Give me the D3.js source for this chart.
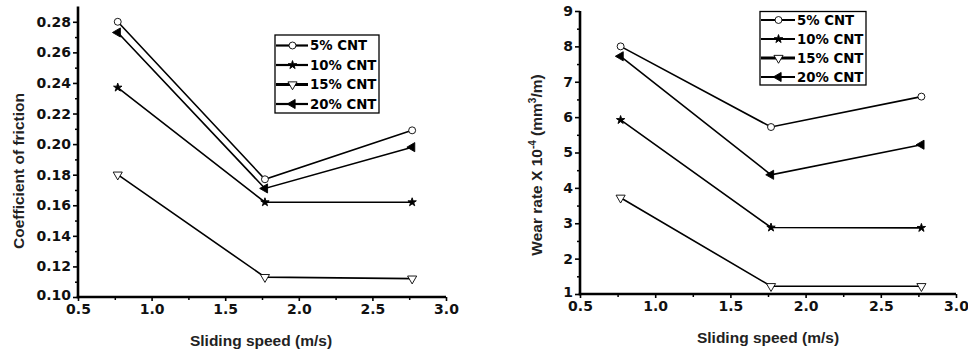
<!DOCTYPE html>
<html>
<head>
<meta charset="utf-8">
<script src="https://cdn.jsdelivr.net/npm/d3@7"></script>
<style>
  body { margin: 0; background: #fff; }
  svg { display: block; font-family: "Liberation Sans", Arial, Helvetica, sans-serif; }
</style>
</head>
<body>
<svg id="chart" width="968" height="353"></svg>
<script>
// sliding speeds (m/s)
var speeds = [0.77, 1.77, 2.77];
var seriesNames = ["5% CNT", "10% CNT", "15% CNT", "20% CNT"];

// coefficient of friction
var cof5 = [0.280, 0.177, 0.209];
var cof10 = [0.237, 0.162, 0.162];
var cof15 = [0.180, 0.113, 0.112];
var cof20 = [0.273, 0.171, 0.198];

// wear rate x 10^-4 (mm3/m)
var wear5 = [8.00, 5.72, 6.58];
var wear10 = [5.92, 2.88, 2.87];
var wear15 = [3.72, 1.22, 1.22];
var wear20 = [7.72, 4.37, 5.22];

var xTicks = [0.5, 1.0, 1.5, 2.0, 2.5, 3.0];
var cofTicks = [0.10, 0.12, 0.14, 0.16, 0.18, 0.20, 0.22, 0.24, 0.26, 0.28];
var wearTicks = [1, 2, 3, 4, 5, 6, 7, 8, 9];

var markers = ["circle", "star", "down", "left"];

function markerPath(kind) {
    if (kind == "circle") return d3.symbol().type(d3.symbolCircle).size(38)();
    if (kind == "star") return d3.symbol().type(d3.symbolStar).size(22)();
    return d3.symbol().type(d3.symbolTriangle).size(36)();
}
function markerRotate(kind) {
    if (kind == "down") return 180;
    if (kind == "left") return -90;
    return 0;
}
function markerFill(kind) {
    return (kind == "circle" || kind == "down") ? "#fff" : "#000";
}

var svg = d3.select("#chart");

function drawPanel(opt) {
    var x = d3.scaleLinear().domain([0.5, 3.0]).range([opt.left, opt.right]);
    var y = d3.scaleLinear().domain(opt.yDomain).range([opt.bottom, opt.top]);

    var g = svg.append("g");

    // minor ticks
    var xMinor = d3.range(0.75, 3.0, 0.5);
    g.append("g")
        .attr("transform", "translate(0," + opt.bottom + ")")
        .call(d3.axisBottom(x).tickValues(xMinor).tickSize(3).tickFormat(""))
        .call(function(a) { a.select(".domain").remove(); a.selectAll("line").attr("stroke-width", 1.5); });
    g.append("g")
        .attr("transform", "translate(" + opt.left + ",0)")
        .call(d3.axisLeft(y).tickValues(opt.yMinor).tickSize(3).tickFormat(""))
        .call(function(a) { a.select(".domain").remove(); a.selectAll("line").attr("stroke-width", 1.5); });

    var xAxis = g.append("g")
        .attr("transform", "translate(0," + opt.bottom + ")")
        .call(d3.axisBottom(x).tickValues(xTicks).tickSize(4).tickSizeOuter(0).tickPadding(3.5)
            .tickFormat(d3.format(".1f")));
    var yAxis = g.append("g")
        .attr("transform", "translate(" + opt.left + ",0)")
        .call(d3.axisLeft(y).tickValues(opt.yTicks).tickSize(5).tickSizeOuter(0).tickPadding(2)
            .tickFormat(opt.yFormat));
    [xAxis, yAxis].forEach(function(a) {
        a.select(".domain").attr("stroke-width", 2.6).attr("stroke", "#000");
        a.selectAll(".tick line").attr("stroke-width", 1.6);
        a.selectAll(".tick text")
            .style("font-family", "'DejaVu Sans', sans-serif")
            .style("font-size", "14px").style("font-weight", "bold").style("fill", "#111");
    });
    // keep the lowest y label clear of the first x label
    yAxis.selectAll(".tick text").filter(function(d) { return d == opt.yDomain[0]; })
        .attr("dy", "0.2em");
    yAxis.select(".domain").attr("d", "M0," + (opt.bottom + 1.3) + "V" + opt.top);
    xAxis.select(".domain").attr("d", "M-1.3,0H" + (opt.right - opt.left)).attr("transform", "translate(" + opt.left + ",0)");

    var line = d3.line()
        .x(function(d, i) { return x(speeds[i]); })
        .y(function(d) { return y(d); });

    opt.series.forEach(function(vals) {
        g.append("path")
            .attr("d", line(vals))
            .attr("fill", "none")
            .attr("stroke", "#000")
            .attr("stroke-width", 1.6);
    });
    opt.series.forEach(function(vals, si) {
        var kind = markers[si];
        g.selectAll(null)
            .data(vals)
            .enter().append("path")
            .attr("d", markerPath(kind))
            .attr("transform", function(d, i) {
                return "translate(" + x(speeds[i]) + "," + y(d) + ") rotate(" + markerRotate(kind) + ")";
            })
            .attr("fill", markerFill(kind))
            .attr("stroke", "#000")
            .attr("stroke-width", 0.9);
    });

    // legend
    var lg = g.append("g").attr("transform", "translate(" + opt.legend[0] + "," + opt.legend[1] + ")");
    lg.append("rect")
        .attr("width", opt.legend[2]).attr("height", opt.legend[3])
        .attr("fill", "#fff").attr("stroke", "#000").attr("stroke-width", 1.3);
    seriesNames.forEach(function(name, si) {
        var ry = opt.legendRow0 + si * opt.legendStep;
        var kind = markers[si];
        lg.append("line")
            .attr("x1", 1).attr("x2", opt.legendLine)
            .attr("y1", ry).attr("y2", ry)
            .attr("stroke", "#000").attr("stroke-width", si == 2 ? 3 : 2.2);
        lg.append("path")
            .attr("d", markerPath(kind))
            .attr("transform", "translate(" + (opt.legendLine / 2 + 1) + "," + ry + ") rotate(" + markerRotate(kind) + ")")
            .attr("fill", markerFill(kind))
            .attr("stroke", "#000").attr("stroke-width", 0.9);
        lg.append("text")
            .attr("x", opt.legendLine + 2).attr("y", ry)
            .attr("dy", "0.36em")
            .style("font-family", "'DejaVu Sans', sans-serif")
            .style("font-size", "13.3px").style("font-weight", "bold")
            .text(name);
    });

    // axis titles
    g.append("text")
        .attr("x", (opt.left + opt.right) / 2 + opt.xTitleShift)
        .attr("y", opt.bottom + 49)
        .attr("text-anchor", "middle")
        .style("font-size", "15.5px").style("font-weight", "bold").style("fill", "#222")
        .text("Sliding speed (m/s)");

    var yt = g.append("text")
        .attr("transform", "translate(" + opt.yTitleX + "," + opt.yTitleY + ") rotate(-90)")
        .attr("text-anchor", "middle")
        .style("font-size", "15.5px").style("font-weight", "bold").style("fill", "#222");
    opt.yTitle(yt);
}

drawPanel({
    left: 78, right: 446, top: 6.5, bottom: 297,
    yDomain: [0.10, 0.29],
    yTicks: cofTicks,
    yMinor: d3.range(0.11, 0.29, 0.02),
    yFormat: d3.format(".2f"),
    series: [cof5, cof10, cof15, cof20],
    legend: [275, 35, 104, 78],
    legendLine: 33, legendRow0: 10.5, legendStep: 19.5,
    xTitleShift: -1,
    yTitleX: 24, yTitleY: 171,
    yTitle: function(t) { t.text("Coefficient of friction"); }
});

drawPanel({
    left: 580, right: 956, top: 11, bottom: 294,
    yDomain: [1, 9],
    yTicks: wearTicks,
    yMinor: d3.range(1.5, 9, 1),
    yFormat: d3.format("d"),
    series: [wear5, wear10, wear15, wear20],
    legend: [760, 11.5, 106, 73.5],
    legendLine: 35, legendRow0: 8.5, legendStep: 19,
    xTitleShift: 0,
    yTitleX: 542, yTitleY: 165,
    yTitle: function(t) {
        t.append("tspan").text("Wear rate X 10");
        t.append("tspan").attr("dy", -6).style("font-size", "10px").text("-4");
        t.append("tspan").attr("dy", 6).text(" (mm");
        t.append("tspan").attr("dy", -6).style("font-size", "10px").text("3");
        t.append("tspan").attr("dy", 6).text("/m)");
    }
});
</script>
</body>
</html>
